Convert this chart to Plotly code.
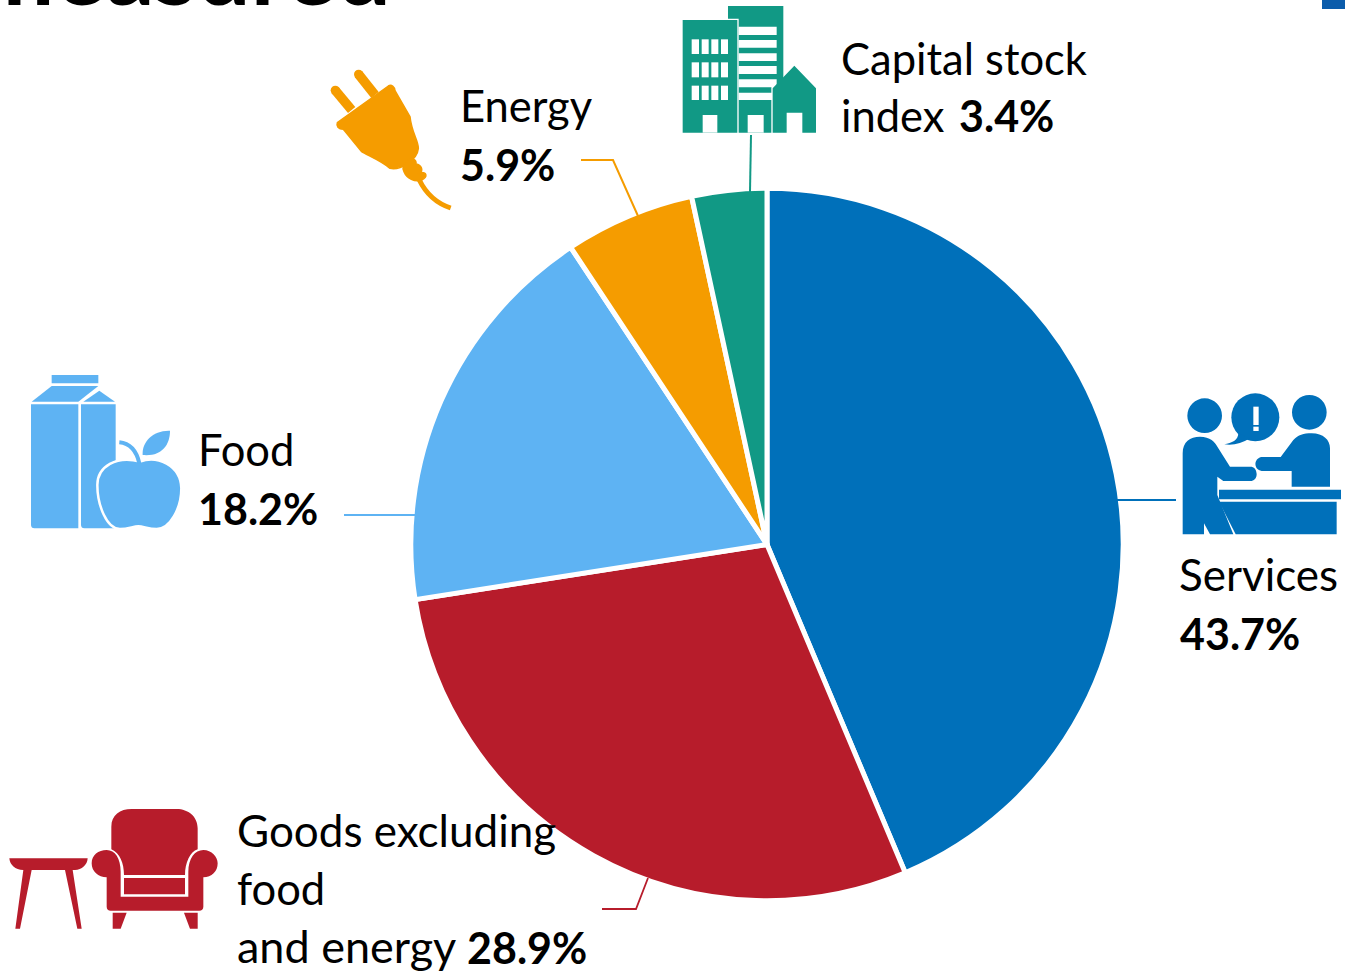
import re
import plotly.graph_objects as go

W, H = 1345, 973

categories = ["Services", "Goods excluding food and energy", "Food", "Energy", "Capital stock index"]
shares = [43.7, 28.9, 18.2, 5.9, 3.4]
colors = ["#0070BA", "#B71C2B", "#5EB3F3", "#F59C00", "#119985"]
BLUE, RED, LIGHT, ORANGE, TEAL = colors

FONT = "Lato"
FS = 43.5
FB = 43


def px(x):
    return x / W


def py(y):
    return 1 - y / H


def tr(path, ox=0, oy=0, s=1.0):
    """Turn a pixel-space SVG path into paper-space coordinates."""
    out, i = [], 0
    for tok in re.findall(r"[A-Za-z]|-?[\d.]+", path):
        if tok.isalpha():
            out.append(tok)
        else:
            v = float(tok)
            if i % 2 == 0:
                out.append(f"{px(ox + v * s):.5f}")
            else:
                out.append(f"{py(oy + v * s):.5f}")
            i += 1
    return " ".join(out)


shapes = []


def fill(path, color, ox=0, oy=0, s=1 / 3, lc=None, lw=0):
    shapes.append(dict(type="path", xref="paper", yref="paper", path=tr(path, ox, oy, s),
                       fillcolor=color, line=dict(color=lc or color, width=lw), layer="above"))


def stroke(path, color, width, ox=0, oy=0, s=1.0):
    shapes.append(dict(type="path", xref="paper", yref="paper", path=tr(path, ox, oy, s),
                       fillcolor="rgba(0,0,0,0)", line=dict(color=color, width=width), layer="above"))


def circle(cx, cy, r, color, ox=0, oy=0, s=1 / 3):
    shapes.append(dict(type="circle", xref="paper", yref="paper",
                       x0=px(ox + (cx - r) * s), x1=px(ox + (cx + r) * s),
                       y0=py(oy + (cy - r) * s), y1=py(oy + (cy + r) * s),
                       fillcolor=color, line=dict(width=0), layer="above"))


def rect(x0, y0, x1, y1):
    return f"M{x0},{y0} L{x1},{y0} L{x1},{y1} L{x0},{y1} Z"


# leader lines
stroke("M1117,500 L1176,500", BLUE, 1.8)
stroke("M344,515 L415,515", LIGHT, 1.8)
stroke("M602,909 L636,909 L648,878", RED, 1.8)
stroke("M581,160 L613,160 L638,216", ORANGE, 2)
stroke("M751,135 L750,192", TEAL, 2)

# corner mark of the clipped slide
fill(rect(1322, 0, 1345, 9), "#0B5CAB", s=1)

# building icon
o = dict(ox=320, oy=0)
fill("M1224,18 L1390,18 L1390,245 L1354,262 L1354,398 L1256,398 L1256,56 L1224,56 Z", TEAL, **o)
for y0, y1 in [(80, 105), (120, 143), (160, 183), (198, 222), (238, 262), (278, 300)]:
    fill(rect(1256, y0, 1370, y1), "#FFFFFF", **o)
fill(rect(1283, 345, 1331, 398), "#FFFFFF", **o)
fill(rect(1088, 60, 1252, 398), TEAL, **o)
fill(rect(1148, 345, 1192, 398), "#FFFFFF", **o)
for xa, xb in [(1115, 1137), (1145, 1166), (1174, 1195), (1203, 1224)]:
    for ya, yb in [(118, 162), (187, 232), (257, 300)]:
        fill(rect(xa, ya, xb, yb), "#FFFFFF", **o)
fill("M1358,265 L1423,197 L1488,265 L1488,398 L1447,398 L1447,338 L1400,338 L1400,398 L1358,398 Z", TEAL, **o)

# plug icon
stroke("M45,270 L95,330", ORANGE, 9.5, ox=320, oy=0, s=1 / 3)
stroke("M115,222 L165,285", ORANGE, 9.5, ox=320, oy=0, s=1 / 3)
circle(46, 271, 14, ORANGE, **o)
circle(116, 223, 14, ORANGE, **o)
fill("M52,368 L205,258 C215,252 225,262 225,272 L270,350 C275,400 295,420 295,445 "
     "C292,480 240,512 210,505 C180,480 140,465 125,455 L70,388 C55,388 48,378 52,368 Z",
     ORANGE, lw=1.5, **o)
fill("M262,480 C275,470 290,480 288,492 C305,495 310,510 300,518 C320,515 325,530 305,540 "
     "C285,548 260,535 252,515 C245,500 250,490 262,480 Z", ORANGE, lw=1.5, **o)
stroke("M298,540 C320,585 350,610 392,624", ORANGE, 5, ox=320, oy=0, s=1 / 3)

# services icon
o = dict(ox=1170, oy=385)
circle(104, 92, 52, BLUE, **o)
circle(418, 82, 52, BLUE, **o)
circle(256, 97, 72, BLUE, **o)
fill("M205,145 C205,165 185,175 163,178 C190,182 215,175 240,160 Z", BLUE, **o)
fill(rect(250, 65, 266, 120), "#FFFFFF", **o)
fill(rect(250, 125, 266, 138), "#FFFFFF", **o)
fill("M38,448 L38,205 C38,170 60,155 90,155 C120,155 135,170 145,190 L180,245 L245,245 "
     "C265,250 265,285 245,288 L160,288 L142,275 L142,330 L190,448 L120,448 L102,415 L102,448 Z", BLUE, **o)
fill("M365,305 L365,258 L275,258 C250,255 250,220 275,216 L332,216 L370,165 "
     "C385,150 400,145 425,145 C460,145 480,165 480,190 L480,305 Z", BLUE, **o)
fill(rect(147, 314, 513, 343), BLUE, **o)
fill("M147,350 L500,350 L500,448 L197,448 Z", BLUE, **o)

# food icon
o = dict(ox=20, oy=365)
fill(rect(95, 30, 235, 55), LIGHT, **o)
fill("M35,110 L95,63 L235,63 L175,110 Z", LIGHT, **o)
fill("M190,110 L238,77 L285,110 Z", LIGHT, **o)
fill("M33,118 L175,118 L175,490 L43,490 C37,490 33,486 33,480 Z", LIGHT, **o)
fill("M183,118 L287,118 L287,490 L193,490 C187,490 183,486 183,480 Z", LIGHT, **o)
stroke("M298,232 C330,235 350,260 358,295", "#FFFFFF", 7, ox=20, oy=365, s=1 / 3)
fill("M360,290 C410,270 482,300 484,370 C484,430 450,492 410,492 C385,492 370,484 355,484 "
     "C340,484 325,492 300,492 C260,492 232,420 232,360 C232,305 290,270 360,290 Z",
     LIGHT, lc="#FFFFFF", lw=2.5, **o)
stroke("M298,232 C330,235 350,260 358,295", LIGHT, 4, ox=20, oy=365, s=1 / 3)
fill("M368,270 C365,230 400,195 450,197 C450,240 425,275 368,270 Z", LIGHT, **o)

# furniture icon
o = dict(ox=0, oy=800)
fill("M28,175 L263,175 C262,195 245,210 225,210 L218,210 L245,386 L232,386 L195,210 L95,210 "
     "L60,386 L46,386 L70,210 C45,210 30,195 28,175 Z", RED, **o)
fill("M334,80 C334,45 360,27 395,27 L530,27 C565,27 593,50 593,85 L593,148 C570,155 555,190 555,225 "
     "L372,225 C372,190 360,160 334,148 Z", RED, **o)
fill(rect(372, 234, 555, 283), RED, **o)
fill("M275,190 C275,165 295,150 320,150 C345,150 362,175 362,215 L362,290 L565,290 L565,215 "
     "C565,175 585,150 610,150 C635,150 653,170 653,190 C653,215 635,232 610,232 L610,320 "
     "C610,328 605,332 598,332 L332,332 C325,332 320,328 320,320 L320,232 C295,232 275,215 275,190 Z", RED, **o)
fill("M338,338 L380,338 L362,386 L338,386 Z", RED, **o)
fill("M552,338 L593,338 L593,386 L570,386 Z", RED, **o)


def label(text, x, y, size=FS):
    return dict(text=text, x=px(x), y=py(y), xref="paper", yref="paper", xanchor="left", yanchor="middle",
                showarrow=False, borderpad=0, font=dict(family=FONT, size=size, color="#000000"))


annotations = [
    label("Capital stock", 840, 58),
    label("index", 840, 115),
    label(f"<b>{shares[4]}%</b>", 958, 115, FB),
    label("Energy", 459, 105),
    label(f"<b>{shares[3]}%</b>", 459, 164, FB),
    label("Food", 197, 449),
    label(f"<b>{shares[2]}%</b>", 197, 508, FB),
    label("Services", 1178, 574, 44),
    label(f"<b>{shares[0]}%</b>", 1179, 633, FB),
    label("Goods excluding", 236, 830, 44),
    label("food", 236, 888),
    label("and energy", 236, 946, 45),
    label(f"<b>{shares[1]}%</b>", 466, 947, FB),
    dict(text="<b>measured</b>", x=px(392), y=py(-32), xref="paper", yref="paper", xanchor="right",
         yanchor="middle", showarrow=False, borderpad=0,
         font=dict(family=FONT, size=96, color="#000000")),
]

R = 356.2
CX, CY = 767, 544.5

fig = go.Figure(go.Pie(
    labels=categories,
    values=shares,
    sort=False,
    direction="clockwise",
    rotation=0,
    textinfo="none",
    hoverinfo="label+percent",
    marker=dict(colors=colors, line=dict(color="#FFFFFF", width=5)),
    domain=dict(x=[px(CX - R), px(CX + R)], y=[py(CY + R), py(CY - R)]),
    showlegend=False,
))
fig.update_layout(
    width=W, height=H, margin=dict(l=0, r=0, t=0, b=0, pad=0),
    paper_bgcolor="#FFFFFF", plot_bgcolor="#FFFFFF",
    shapes=shapes, annotations=annotations, showlegend=False,
)
fig.write_html("out.html", config=dict(displayModeBar=False),
               post_script="document.body.style.margin='0';document.body.style.overflow='hidden';")
